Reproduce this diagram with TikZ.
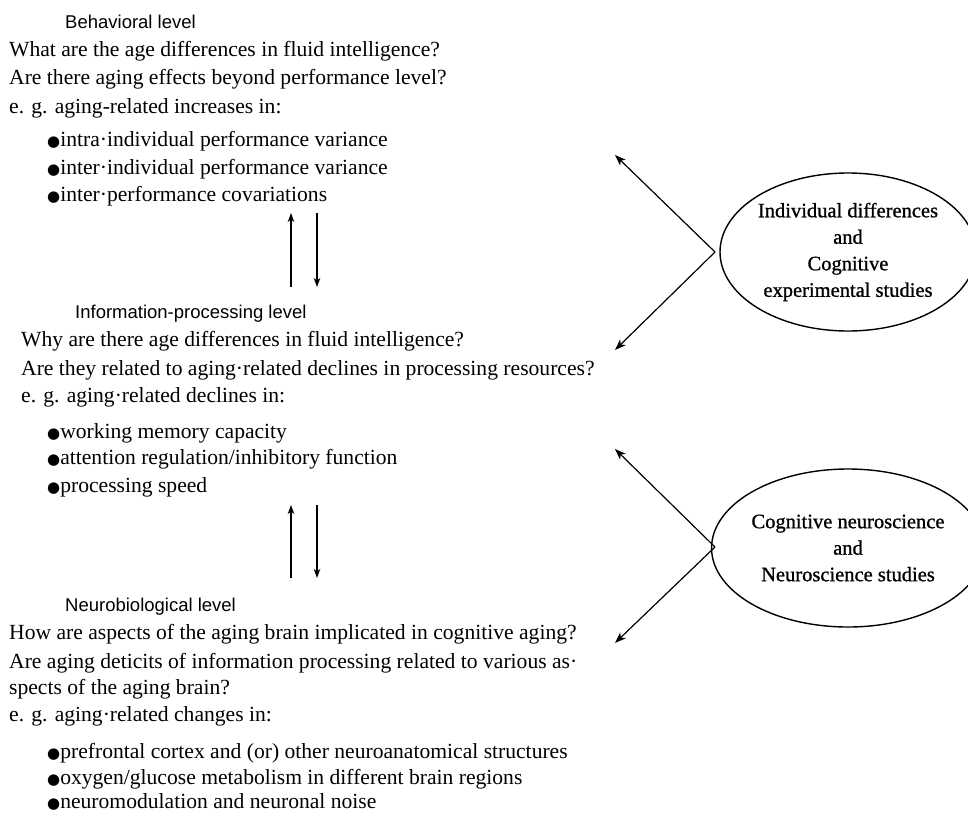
\documentclass[tikz,border=0pt]{standalone}
\usepackage{fontspec}
\setmainfont{Liberation Serif}
\setsansfont{Liberation Sans}
\newfontfamily\bulfont{DejaVu Sans}
\newfontfamily\ovalfont[FakeBold=1]{Liberation Serif}
\usetikzlibrary{arrows.meta,shapes.geometric}
\newcommand\mybul{{\bulfont\fontsize{15}{15}\selectfont ●}}
\begin{document}
\begin{tikzpicture}[x=1pt,y=-1pt,
  body/.style={anchor=base west,inner sep=0pt,font=\fontsize{21.6}{28}\selectfont},
  head/.style={anchor=base west,inner sep=0pt,font=\sffamily\fontsize{18.5}{22}\selectfont},
  oval/.style={draw,line width=1.4pt,ellipse,minimum width=256pt,minimum height=158pt,
    inner sep=0pt,align=center,font=\ovalfont\fontsize{20.5}{26.5}\selectfont},
  arr/.style={line width=1.2pt,-{Stealth[length=11pt,width=8pt,inset=3pt]}},
  varr/.style={line width=1.2pt,-{Stealth[length=9pt,width=6.5pt,inset=2.5pt]}}]
\useasboundingbox (0,0) rectangle (968,812);

% Behavioral level
\node[head] (h1) at (65,28) {Behavioral level};
\node[body] (a1) at (9,56) {What are the age differences in fluid intelligence?};
\node[body] (a2) at (9,84) {Are there aging effects beyond performance level?};
\node[body] (a3) at (9,113) {e. g. aging-related increases in:};
\node[body] (a4) at (47,146) {\mybul intra·individual performance variance};
\node[body] (a5) at (47,174) {\mybul inter·individual performance variance};
\node[body] (a6) at (47,201) {\mybul inter·performance covariations};

% Information-processing level
\node[head] (h2) at (75,318) {Information-processing level};
\node[body] (b1) at (21,346) {Why are there age differences in fluid intelligence?};
\node[body] (b2) at (21,375) {Are they related to aging·related declines in processing resources?};
\node[body] (b3) at (21,402) {e. g. aging·related declines in:};
\node[body] (b4) at (47,438) {\mybul working memory capacity};
\node[body] (b5) at (47,464) {\mybul attention regulation/inhibitory function};
\node[body] (b6) at (47,492) {\mybul processing speed};

% Neurobiological level
\node[head] (h3) at (65,611) {Neurobiological level};
\node[body] (c1) at (9,639) {How are aspects of the aging brain implicated in cognitive aging?};
\node[body] (c2) at (9,668) {Are aging deticits of information processing related to various as·};
\node[body] (c3) at (9,694) {spects of the aging brain?};
\node[body] (c4) at (9,721) {e. g. aging·related changes in:};
\node[body] (c5) at (47,758) {\mybul prefrontal cortex and (or) other neuroanatomical structures};
\node[body] (c6) at (47,784) {\mybul oxygen/glucose metabolism in different brain regions};
\node[body] (c7) at (47,808) {\mybul neuromodulation and neuronal noise};

% vertical arrows
\coordinate (u1s) at (291,287); \coordinate (u1e) at (291,213);
\coordinate (d1s) at (317,213); \coordinate (d1e) at (317,287);
\coordinate (u2s) at (291,578); \coordinate (u2e) at (291,505);
\coordinate (d2s) at (317,505); \coordinate (d2e) at (317,578);
\draw[varr] (u1s) -- (u1e);
\draw[varr] (d1s) -- (d1e);
\draw[varr] (u2s) -- (u2e);
\draw[varr] (d2s) -- (d2e);

% ovals
\node[oval] (e1) at (848,252) {Individual differences\\and\\Cognitive\\experimental studies};
\node[oval] (e2) at (848,548) {Cognitive neuroscience\\and\\Neuroscience studies};

% V arrows
\coordinate (v1) at (715,252);
\coordinate (t1a) at (615,155);
\coordinate (t1b) at (615,350);
\coordinate (v2) at (715,547);
\coordinate (t2a) at (615,449);
\coordinate (t2b) at (615,643);
\draw[arr] (v1) -- (t1a);
\draw[arr] (v1) -- (t1b);
\draw[arr] (v2) -- (t2a);
\draw[arr] (v2) -- (t2b);
\end{tikzpicture}
\end{document}
